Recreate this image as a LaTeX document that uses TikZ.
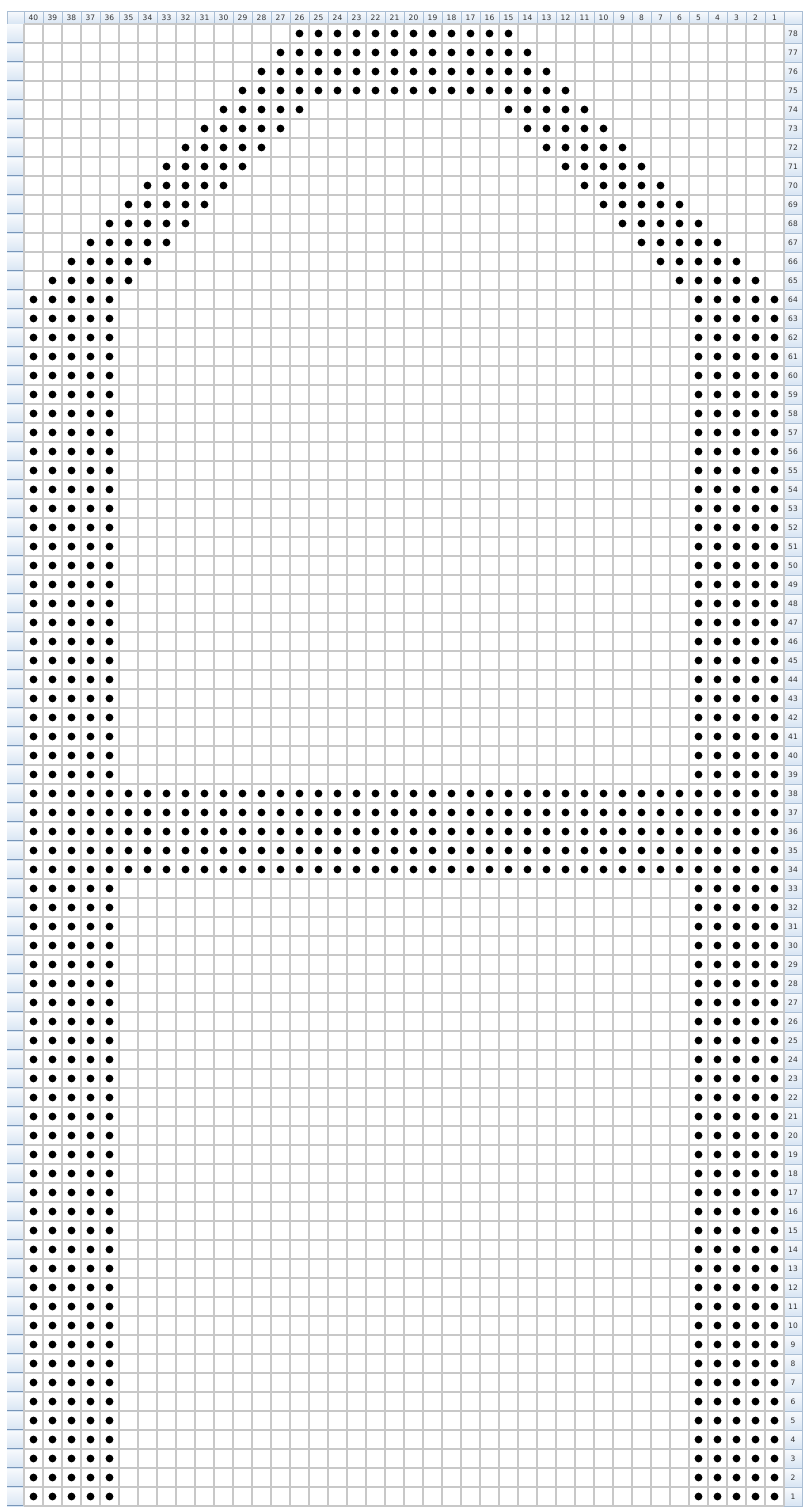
\documentclass[tikz,border=0pt]{standalone}
\usepackage{fontspec}
\setmainfont{DejaVu Sans}
\usetikzlibrary{positioning}
\definecolor{gridgray}{RGB}{200,200,200}
\definecolor{headtop}{RGB}{248,250,253}
\definecolor{headbot}{RGB}{216,229,243}
\definecolor{headline}{RGB}{170,190,212}
\definecolor{rowline}{RGB}{120,150,185}
\tikzset{
  hdr/.style={top color=headtop,bottom color=headbot,draw=headline,line width=0.6},
  lbl/.style={font=\fontsize{7.5}{8}\selectfont,text=black!80,inner sep=0},
  gridline/.style={gridgray,line width=1.2},
}
% one bead in column #1, row #2
\newcommand{\bead}[2]{\fill ({24+19*(40-(#1))+9.5},{24+19*(78-(#2))+9.5}) circle (3.9);}

\begin{document}
\begin{tikzpicture}[x=1pt,y=-1pt]
\fill[white] (0,0) rectangle (804,1507);
\useasboundingbox (0,0) rectangle (804,1507);

% column heads
\draw[hdr] (7,11) rectangle (24,24);
\foreach \c in {1,...,40}{
  \draw[hdr] ({24+19*(40-\c)},11) rectangle +(19,13);
  \draw({24+19*(40-\c)+9.5},17.5) node[lbl] (c\c) {\c};
}
\draw[hdr] (784,11) rectangle (802,24);

% row heads
\foreach \r in {1,...,78}{
  \shade[top color=headtop,bottom color=headbot] (7,{24+19*(78-\r)}) rectangle +(17,19);
  \draw[rowline,line width=1] (7,{24+19*(78-\r)+18}) -- +(17,0);
  \draw[hdr] (784,{24+19*(78-\r)}) rectangle +(18,19);
  \draw(793,{24+19*(78-\r)+9.5}) node[lbl] (r\r) {\r};
}

% grid
\foreach \i in {0,...,40}{\draw[gridline] ({24+19*\i},24) -- ({24+19*\i},1506);}
\foreach \j in {0,...,78}{\draw[gridline] (24,{24+19*\j}) -- (784,{24+19*\j});}

% legs
\foreach \r in {1,...,64}{
  \foreach \c in {1,2,3,4,5,36,37,38,39,40}{\bead{\c}{\r}}
}
% bar
\foreach \r in {34,...,38}{
  \foreach \c in {6,...,35}{\bead{\c}{\r}}
}
% slopes
\foreach \r in {65,...,74}{
  \foreach \k in {0,...,4}{
    \bead{\r-63+\k}{\r}
    \bead{104-\r-\k}{\r}
  }
}
% top
\foreach \r in {75,...,78}{
  \pgfmathtruncatemacro\lo{\r-63}
  \pgfmathtruncatemacro\hi{104-\r}
  \foreach \c in {\lo,...,\hi}{\bead{\c}{\r}}
}
\end{tikzpicture}
\end{document}
